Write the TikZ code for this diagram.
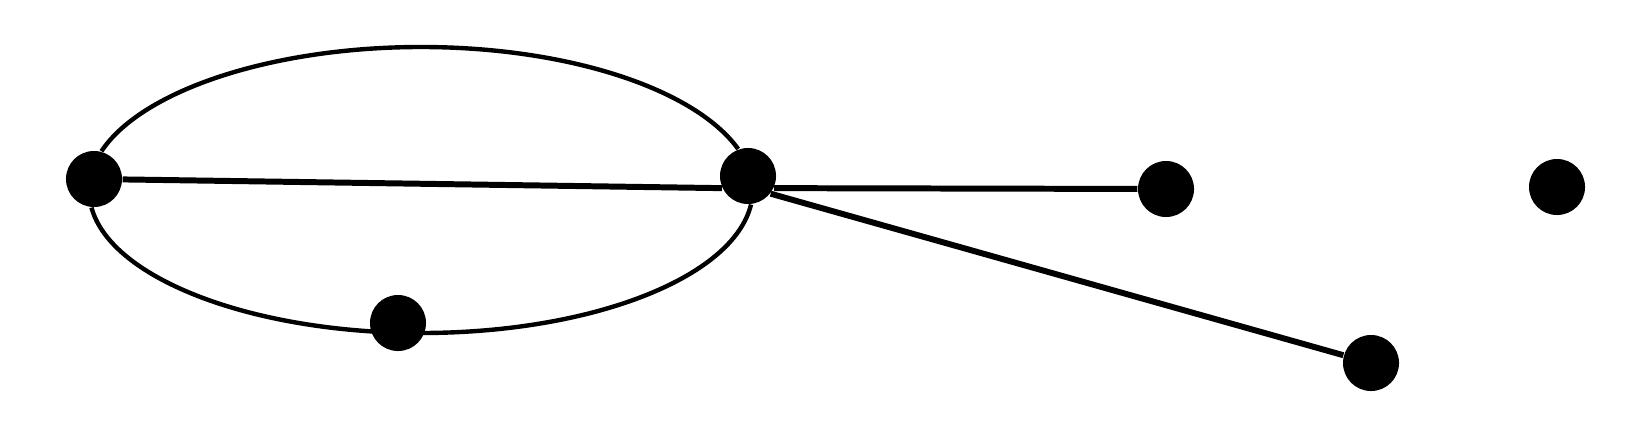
\documentclass[tikz,border=0pt]{standalone}
\usepackage{tikz}

\tikzset{
  vert/.style={circle, fill=black, inner sep=0pt, minimum size=0.56cm},
  arista/.style={line width=1.7pt},
  curva/.style={line width=1.25pt},
}

\begin{document}
\begin{tikzpicture}[x=0.01cm,y=-0.01cm]
  \useasboundingbox (0,0) rectangle (1637,439);

  % Vertices
  \node[vert] (a) at (94,179) {};
  \node[vert] (b) at (748,176) {};
  \node[vert] (c) at (1166,189) {};
  \node[vert] (d) at (1557,187) {};
  \node[vert] (e) at (1371,363) {};

  % Puntos extremos de la elipse
  \coordinate (arr) at (421,47);
  \coordinate (abj) at (421,333);

  % Aristas curvas
  \draw[curva] (a.75) .. controls (142,90) and (273,47) .. (arr)
    .. controls (566,47) and (694,88) .. (b.110);
  \draw[curva] (a.265) .. controls (111,279) and (253,333) .. (abj)
    .. controls (591,333) and (733,278) .. (b.-84);

  % Aristas rectas
  \draw[arista] (a) -- (b.205);
  \draw[arista] (b.-25) -- (c);
  \draw[arista] (b.-38) -- (e);

  \node[vert] (f) at (398,323) {}; % sobre la curva de abajo
\end{tikzpicture}
\end{document}
